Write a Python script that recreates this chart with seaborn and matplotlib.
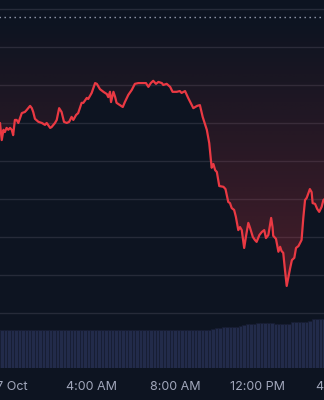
import numpy as np
import matplotlib
matplotlib.use("Agg")
import matplotlib.pyplot as plt
import seaborn as sns
from matplotlib.colors import LinearSegmentedColormap

# ---------------- data ----------------
# minutes after midnight of 17 Oct
minutes = [-26, -21, -16, -12, -7, -2, 3, 8, 12, 17,
           22, 27, 32, 37, 46, 51, 61, 66, 70, 75,
           85, 95, 104, 109, 119, 123, 133, 138, 145, 152,
           159, 167, 174, 181, 186, 194, 200, 210, 215, 225,
           229, 239, 249, 254, 263, 273, 283, 287, 292, 295,
           302, 307, 311, 321, 329, 335, 345, 355, 364, 374,
           388, 396, 403, 410, 417, 425, 432, 442, 446, 456,
           466, 473, 485, 494, 499, 509, 518, 533, 544, 552,
           560, 572, 579, 586, 591, 596, 601, 608, 620, 626,
           634, 639, 644, 651, 656, 663, 668, 673, 680, 685,
           692, 697, 705, 711, 716, 724, 731, 738, 743, 750,
           758, 762, 764, 772, 779, 784, 788, 793, 798, 803,
           808, 813, 818, 825, 830, 837, 846, 851, 856, 861,
           866, 870, 875, 878, 885, 891, 897, 904, 909, 917]
price = [1670.0, 1665.5, 1668.2, 1667.6, 1668.7, 1668.2, 1668.7, 1668.2, 1666.8, 1670.8,
         1670.8, 1670.0, 1671.3, 1672.6, 1672.9, 1673.4, 1674.5, 1673.9, 1672.9, 1671.1,
         1670.3, 1670.0, 1669.5, 1670.0, 1668.7, 1668.9, 1670.0, 1670.8, 1673.9, 1672.9,
         1670.3, 1670.0, 1670.3, 1671.6, 1670.8, 1672.1, 1672.6, 1675.3, 1675.3, 1676.6,
         1676.3, 1677.9, 1680.5, 1680.3, 1678.9, 1678.2, 1677.6, 1676.8, 1678.2, 1675.5,
         1678.2, 1676.8, 1675.3, 1674.7, 1674.2, 1675.5, 1677.4, 1678.7, 1680.3, 1680.5,
         1680.5, 1680.5, 1679.5, 1680.5, 1681.1, 1680.3, 1680.8, 1680.5, 1680.0, 1680.3,
         1679.5, 1678.2, 1678.2, 1678.4, 1677.9, 1678.4, 1676.6, 1673.9, 1674.5, 1674.7,
         1671.6, 1668.2, 1664.7, 1658.2, 1659.2, 1657.6, 1657.1, 1653.4, 1653.2, 1652.6,
         1649.2, 1648.9, 1647.6, 1647.1, 1645.3, 1641.8, 1642.6, 1641.8, 1637.1, 1640.0,
         1643.7, 1642.4, 1640.0, 1639.2, 1638.7, 1640.5, 1641.3, 1641.8, 1639.7, 1640.5,
         1645.0, 1642.6, 1640.3, 1639.5, 1636.1, 1637.4, 1636.3, 1635.8, 1631.3, 1627.1,
         1629.5, 1631.8, 1633.9, 1634.5, 1637.1, 1637.6, 1639.2, 1645.0, 1649.7, 1650.3,
         1651.6, 1652.6, 1651.8, 1648.9, 1648.7, 1647.4, 1646.6, 1647.9, 1649.7, 1650.3]
reference_price = 1697.9

vol_minutes = list(range(-30, 911, 10))
volume = [38.0, 37.8, 38.2, 38.0, 37.7, 38.3, 38.0, 37.9, 38.1, 37.6,
          38.0, 38.2, 37.8, 38.0, 38.4, 38.0, 37.7, 38.0, 38.1, 37.9,
          38.0, 37.6, 38.2, 38.0, 37.9, 38.1, 38.3, 37.8, 38.0, 37.9,
          38.0, 38.1, 37.7, 38.0, 38.2, 37.9, 38.0, 37.8, 38.1, 38.0,
          37.9, 38.0, 38.2, 37.8, 38.0, 37.9, 38.1, 38.0, 37.8, 38.0,
          38.1, 37.9, 38.0, 38.0, 37.8, 38.0, 37.9, 38.0, 37.8, 37.9,
          38.0, 38.5, 39.3, 40.0, 40.3, 40.6, 40.8, 40.8, 41.0, 41.5,
          42.3, 43.0, 44.0, 44.3, 44.5, 44.7, 44.7, 44.7, 44.7, 44.7,
          44.5, 44.0, 44.0, 44.0, 44.3, 45.7, 45.7, 45.7, 45.8, 46.5,
          47.3, 48.7, 48.7, 49.0, 49.0]

tick_minutes = [0, 240, 480, 720, 960]
tick_labels = ["17 Oct", "4:00 AM", "8:00 AM", "12:00 PM", "4:00 PM"]
grid_levels = [1620, 1630, 1640, 1650, 1660, 1670, 1680, 1690, 1700]

# ---------------- style ----------------
BG = "#0d1421"
RED = "#ea3943"
GRID = "#262b39"
TXT = "#a1a7bb"
VOLC = "#222b4a"

sns.set_theme(style="dark")
plt.rcParams["font.family"] = ["Inter", "DejaVu Sans"]

W, H = 324, 400
fig = plt.figure(figsize=(W / 100, H / 100), dpi=100, facecolor=BG)

# axes wider than the figure so that edge labels are clipped like the reference
ext_l, ext_r = 40, 40
ax_left = -ext_l / W
ax_width = (W + ext_l + ext_r) / W
plot_bottom_px = 368
ax = fig.add_axes([ax_left, (H - plot_bottom_px) / H, ax_width, plot_bottom_px / H])
ax.set_facecolor(BG)

px_per_min = 83 / 240.0
x0_px = 9  # pixel of midnight
xmin = (-ext_l - x0_px) / px_per_min
xmax = (W + ext_r - x0_px) / px_per_min
ax.set_xlim(xmin, xmax)
ax.set_ylim(1605.5, 1702.37)

for s in ax.spines.values():
    s.set_visible(False)

ax.set_yticks(grid_levels)
ax.set_yticklabels([])
ax.grid(axis="y", color=GRID, linewidth=1.0)
ax.grid(axis="x", visible=False)
ax.tick_params(axis="y", length=0)

ax.set_xticks(tick_minutes)
ax.set_xticklabels(tick_labels)
ax.tick_params(axis="x", length=0, pad=9, labelsize=9, colors=TXT)

# reference (dotted) line
ax.axhline(reference_price, color="#9aa1b3", linewidth=1.0, linestyle=(0, (1, 2.6)), zorder=3)

# gradient fill between line and reference
poly = ax.fill_between(minutes, price, reference_price, facecolor="none", edgecolor="none")
cmap = LinearSegmentedColormap.from_list(
    "g", [(234 / 255, 57 / 255, 67 / 255, 0.0), (234 / 255, 57 / 255, 67 / 255, 0.26)])
grad = np.linspace(1, 0, 256).reshape(-1, 1)
im = ax.imshow(grad, extent=[minutes[0], minutes[-1], min(price), reference_price],
               aspect="auto", cmap=cmap, origin="lower", zorder=2, interpolation="bilinear")
im.set_clip_path(poly.get_paths()[0], transform=ax.transData)
ax.set_xlim(xmin, xmax)
ax.set_ylim(1605.5, 1702.37)

sns.lineplot(x=minutes, y=price, ax=ax, color=RED, linewidth=1.6, zorder=4)

# volume bars
vax = fig.add_axes([ax_left, (H - plot_bottom_px) / H, ax_width, 50 / H])
vax.patch.set_alpha(0)
vax.bar(vol_minutes, volume, width=10, color=VOLC, edgecolor="#171d33", linewidth=0.6, align="center")
vax.set_xlim(xmin, xmax)
vax.set_ylim(0, 50)
vax.axis("off")

fig.savefig("out.png", dpi=100, facecolor=BG)
